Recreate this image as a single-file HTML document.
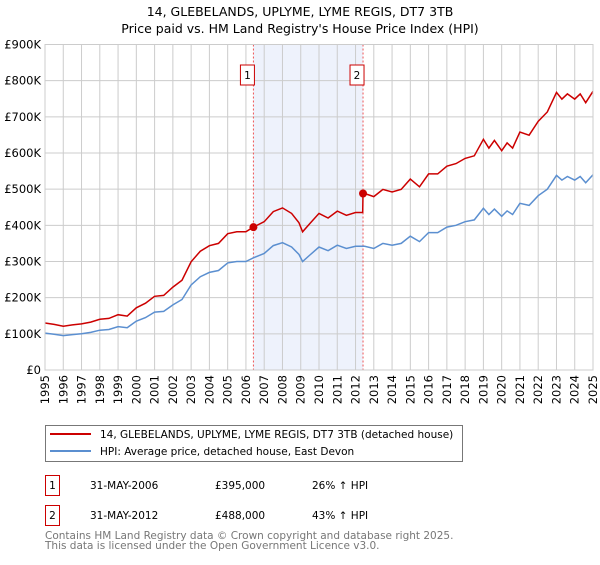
<!DOCTYPE html>
<html><head><meta charset="utf-8"><style>
body{margin:0;background:#fff;font-family:"Liberation Sans","DejaVu Sans",sans-serif;}
svg text{font-family:"DejaVu Sans","Liberation Sans",sans-serif;}
</style></head><body>
<svg id="c" width="600" height="560" xmlns="http://www.w3.org/2000/svg">
<text x="300" y="16" text-anchor="middle" font-size="12.5">14, GLEBELANDS, UPLYME, LYME REGIS, DT7 3TB</text>
<text x="300" y="33" text-anchor="middle" font-size="12.5">Price paid vs. HM Land Registry's House Price Index (HPI)</text>
<g id="grid"></g><g id="marks"></g><g id="axes"></g>
<rect x="45.5" y="425.5" width="417" height="36" fill="#fff" stroke="#777" stroke-width="1"/>
<line x1="50" y1="434" x2="91" y2="434" stroke="#cc0000" stroke-width="2"/>
<text x="100" y="438" font-size="10.5">14, GLEBELANDS, UPLYME, LYME REGIS, DT7 3TB (detached house)</text>
<line x1="50" y1="451" x2="91" y2="451" stroke="#5b8fd0" stroke-width="2"/>
<text x="100" y="455" font-size="10.5">HPI: Average price, detached house, East Devon</text>
<rect x="45.5" y="475.5" width="14" height="20" fill="#fff" stroke="#cc0000" stroke-width="1"/>
<text x="52.5" y="489" text-anchor="middle" font-size="10.5">1</text>
<text x="90" y="489" font-size="10.5">31-MAY-2006</text>
<text x="215" y="489" font-size="10.5">£395,000</text>
<text x="312" y="489" font-size="10.5">26% ↑ HPI</text>
<rect x="45.5" y="505.5" width="14" height="20" fill="#fff" stroke="#cc0000" stroke-width="1"/>
<text x="52.5" y="519" text-anchor="middle" font-size="10.5">2</text>
<text x="90" y="519" font-size="10.5">31-MAY-2012</text>
<text x="215" y="519" font-size="10.5">£488,000</text>
<text x="312" y="519" font-size="10.5">43% ↑ HPI</text>
<text x="45" y="539" font-size="10.5" fill="#777">Contains HM Land Registry data © Crown copyright and database right 2025.</text>
<text x="45" y="549" font-size="10.5" fill="#777">This data is licensed under the Open Government Licence v3.0.</text>
</svg>
<script>
const hpiYears=[1995,1995.5,1996,1996.5,1997,1997.5,1998,1998.5,1999,1999.5,2000,2000.5,2001,2001.5,2002,2002.5,2003,2003.5,2004,2004.5,2005,2005.5,2006,2006.4,2007,2007.5,2008,2008.5,2008.9,2009.1,2009.5,2010,2010.5,2011,2011.5,2012,2012.5,2013,2013.5,2014,2014.5,2015,2015.5,2016,2016.5,2017,2017.5,2018,2018.5,2019,2019.3,2019.6,2020,2020.3,2020.6,2021,2021.5,2022,2022.5,2023,2023.3,2023.6,2024,2024.3,2024.6,2025];
const hpiValues=[102,99,95,98,100,104,110,112,120,117,135,145,160,162,180,195,235,258,270,275,296,300,300,310,322,344,352,340,320,300,318,340,330,345,336,342,342,336,350,345,350,370,355,380,380,395,400,410,415,447,430,445,425,440,430,461,455,482,500,538,525,535,525,535,518,540];
const saleYears=[2006.41,2012.41];
const salePrices=[395,488];
const yTicks=[0,100,200,300,400,500,600,700,800,900];
const yTickLabels=["£0","£100K","£200K","£300K","£400K","£500K","£600K","£700K","£800K","£900K"];
const xTicks=[1995,1996,1997,1998,1999,2000,2001,2002,2003,2004,2005,2006,2007,2008,2009,2010,2011,2012,2013,2014,2015,2016,2017,2018,2019,2020,2021,2022,2023,2024,2025];
const NS="http://www.w3.org/2000/svg";
const X0=45,X1=593,Y0=370,Y1=44.5;
function xs(t){return X0+(t-1995)/30*(X1-X0);}
function ys(v){return Y0-v/900*(Y0-Y1);}
function mk(tag,attrs,parent){const e=document.createElementNS(NS,tag);for(const k in attrs)e.setAttribute(k,attrs[k]);parent.appendChild(e);return e;}
function hpiAt(t){for(let i=0;i<hpiYears.length-1;i++){if(t>=hpiYears[i]&&t<=hpiYears[i+1]){const f=(t-hpiYears[i])/(hpiYears[i+1]-hpiYears[i]);return hpiValues[i]+f*(hpiValues[i+1]-hpiValues[i]);}}return hpiValues[hpiValues.length-1];}
const grid=document.getElementById('grid'),marks=document.getElementById('marks'),axes=document.getElementById('axes');
const shade=mk('rect',{x:xs(saleYears[0]),y:Y1,width:xs(saleYears[1])-xs(saleYears[0]),height:Y0-Y1,fill:'#eef2fc'},grid);


yTicks.forEach((v,i)=>{
 const l=mk('line',{x1:X0,x2:X1,y1:ys(v),y2:ys(v),stroke:'#cccccc','stroke-width':1},grid);
 
 
 const t=mk('text',{x:X0-4,y:ys(v)+4,'text-anchor':'end','font-size':11.5},axes);
 t.textContent=yTickLabels[i];
 
 
});
xTicks.forEach(y=>{
 const l=mk('line',{x1:xs(y),x2:xs(y),y1:Y1,y2:Y0,stroke:'#cccccc','stroke-width':1},grid);
 
 
 const t=mk('text',{x:0,y:0,'text-anchor':'end','font-size':11.5,transform:`translate(${xs(y)+4},${Y0+5}) rotate(-90)`},axes);
 t.textContent=y;
 
 
});
saleYears.forEach((s,i)=>{
 const l=mk('line',{x1:xs(s),x2:xs(s),y1:Y1,y2:Y0,stroke:'#ee5555','stroke-width':1,'stroke-dasharray':'2,2'},marks);
 
 
 const r=mk('rect',{x:xs(s)-13,y:65,width:14,height:20,fill:'#fff',stroke:'#cc0000','stroke-width':1},marks);
 
 
 const t=mk('text',{x:xs(s)-6,y:79,'text-anchor':'middle','font-size':10.5},marks);
 t.textContent=String(i+1);
 
 
});
const hp=hpiYears.map((t,i)=>xs(t).toFixed(1)+','+ys(hpiValues[i]).toFixed(1)).join(' ');
const hl=mk('polyline',{points:hp,fill:'none',stroke:'#5b8fd0','stroke-width':1.5},marks);


function ratioAt(t){let k=0;if(t>=saleYears[1])k=1;return salePrices[k]/hpiAt(saleYears[k]);}
const rp=[];
hpiYears.forEach((t,i)=>{
 if(i>0&&hpiYears[i-1]<saleYears[1]&&t>=saleYears[1]){rp.push([saleYears[1]-0.02,hpiAt(saleYears[1])*ratioAt(saleYears[0])]);rp.push([saleYears[1],salePrices[1]]);}
 rp.push([t,hpiValues[i]*ratioAt(t)]);
});
const pl=mk('polyline',{points:rp.map(p=>xs(p[0]).toFixed(1)+','+ys(p[1]).toFixed(1)).join(' '),fill:'none',stroke:'#cc0000','stroke-width':1.5},marks);


saleYears.forEach((s,i)=>{
 const c=mk('circle',{cx:xs(s),cy:ys(salePrices[i]),r:4,fill:'#cc0000'},marks);
 
 
});
const ax=mk('rect',{x:X0,y:Y1,width:X1-X0,height:Y0-Y1,fill:'none',stroke:'#cccccc','stroke-width':1},axes);


</script>
</body></html>
